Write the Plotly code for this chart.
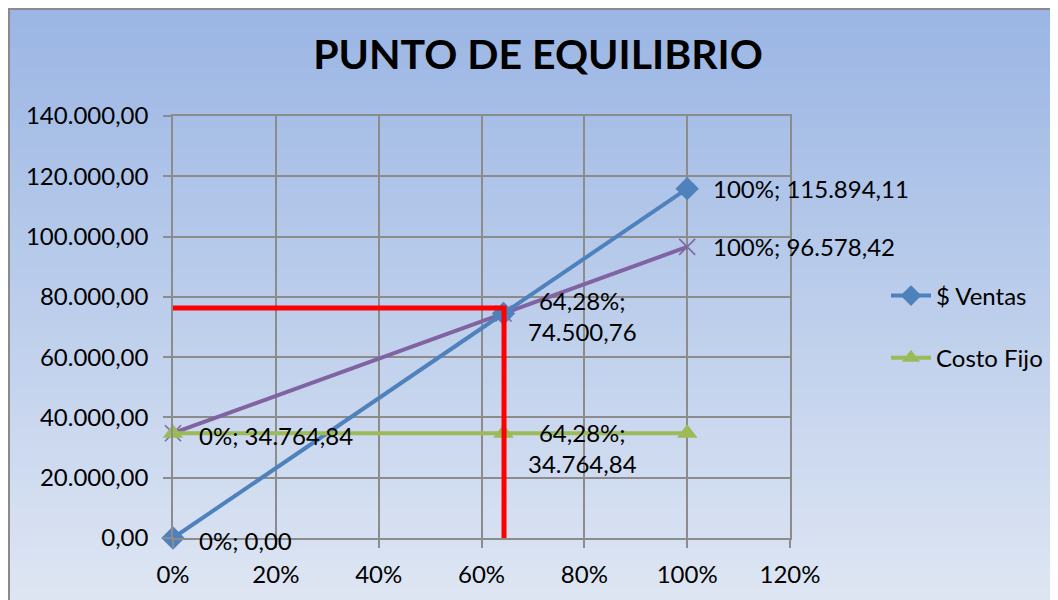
import plotly.graph_objects as go

# ---- data ----
x_pct = [0.0, 0.6428, 1.0]
ventas = [0.0, 74500.76, 115894.11]
costo_fijo = [34764.84, 34764.84, 34764.84]
costo_total = [34764.84, 74500.76, 96578.42]
red_x = [-0.01, 0.6438, 0.6438]
red_y = [76300, 76300, -2500]
x_ticks = [0, 0.2, 0.4, 0.6, 0.8, 1.0, 1.2]
y_ticks = [0, 20000, 40000, 60000, 80000, 100000, 120000, 140000]

W, H = 1058, 600
L, T = 165, 108
PW, PH = 617, 422
R, B = W - L - PW, H - T - PH

def px_x(px):
    return (px - L) / PW

def px_y(py):
    return (H - B - py) / PH

def fmt_num(v):
    s = f"{v:,.2f}"
    return s.replace(",", "X").replace(".", ",").replace("X", ".")

def fmt_pct(p):
    s = f"{p*100:.2f}".rstrip("0").rstrip(".")
    return s.replace(".", ",") + "%"

def lab(p, v, br=False):
    return fmt_pct(p) + (";<br>" if br else "; ") + fmt_num(v)

FONT = "Lato, Carlito, Calibri, sans-serif"

fig = go.Figure()

# gradient background bands
top = (155, 182, 228)
bot = (222, 230, 243)
n = 60
shapes = []
for i in range(n):
    t = i / (n - 1)
    c = tuple(round(top[k] + (bot[k] - top[k]) * t) for k in range(3))
    y0 = H * i / n
    y1 = H * (i + 1) / n + 1
    shapes.append(dict(type="rect", xref="paper", yref="paper", layer="below",
                       x0=px_x(0), x1=px_x(W), y0=px_y(y1), y1=px_y(y0),
                       fillcolor=f"rgb{c}", line=dict(width=0)))
# border lines top & left
shapes.append(dict(type="line", xref="paper", yref="paper", layer="above",
                   x0=px_x(0), x1=px_x(W), y0=px_y(1), y1=px_y(1),
                   line=dict(color="#8a8a8a", width=2)))
shapes.append(dict(type="line", xref="paper", yref="paper", layer="above",
                   x0=px_x(1), x1=px_x(1), y0=px_y(0), y1=px_y(H),
                   line=dict(color="#8a8a8a", width=2)))

fig.add_trace(go.Scatter(x=x_pct, y=costo_total, mode="lines+markers",
                         line=dict(color="#8064A2", width=4),
                         marker=dict(symbol="x-thin-open", size=16,
                                     line=dict(color="#8064A2", width=1.5)),
                         showlegend=False, cliponaxis=False))
fig.add_trace(go.Scatter(x=x_pct, y=ventas, mode="lines+markers", name="$ Ventas",
                         line=dict(color="#4F81BD", width=4),
                         marker=dict(symbol="diamond", size=18, color="#4F81BD"),
                         legendgroup="a", cliponaxis=False))
fig.add_trace(go.Scatter(x=x_pct, y=costo_fijo, mode="lines+markers", name="Costo Fijo",
                         line=dict(color="#9BBB59", width=4),
                         marker=dict(symbol="triangle-up", size=18, color="#9BBB59"),
                         legendgroup="b", cliponaxis=False))
fig.add_trace(go.Scatter(x=red_x, y=red_y, mode="lines",
                         line=dict(color="#FF0000", width=5),
                         showlegend=False, cliponaxis=False, hoverinfo="skip"))

ann_font = dict(family=FONT, size=24, color="black")
anns = [
    dict(x=x_pct[0], y=ventas[0], text=lab(x_pct[0], ventas[0]), xshift=24, yshift=-2),
    dict(x=x_pct[0], y=costo_fijo[0], text=lab(x_pct[0], costo_fijo[0]), xshift=24, yshift=-2),
    dict(x=x_pct[1], y=ventas[1], text=lab(x_pct[1], ventas[1], True), xshift=22, yshift=-3),
    dict(x=x_pct[1], y=costo_fijo[1], text=lab(x_pct[1], costo_fijo[1], True), xshift=22, yshift=-15),
    dict(x=x_pct[2], y=ventas[2], text=lab(x_pct[2], ventas[2]), xshift=24, yshift=0),
    dict(x=x_pct[2], y=costo_total[2], text=lab(x_pct[2], costo_total[2]), xshift=24, yshift=0),
]
annotations = []
for a in anns:
    a.update(xref="x", yref="y", xanchor="left", yanchor="middle", showarrow=False,
             font=ann_font, align="center")
    annotations.append(a)

tick_font = dict(family=FONT, size=24, color="black")
fig.update_layout(
    width=W, height=H,
    margin=dict(l=L, r=R, t=T, b=B),
    paper_bgcolor="#DCE6F2",
    plot_bgcolor="rgba(0,0,0,0)",
    separators=",.",
    title=dict(text="<b>PUNTO DE EQUILIBRIO</b>", x=px_x(530), xanchor="center",
               xref="paper", y=1 - 47 / H, yanchor="middle",
               font=dict(family=FONT, size=41, color="black")),
    shapes=shapes,
    annotations=annotations,
    showlegend=True,
    legend=dict(x=px_x(878), y=px_y(319), xanchor="left", yanchor="middle",
                font=dict(family=FONT, size=24, color="black"),
                bgcolor="rgba(0,0,0,0)", tracegroupgap=28, itemwidth=40),
    xaxis=dict(range=[0, 1.2], tickvals=x_ticks, tickformat=".0%",
               showgrid=True, gridcolor="#8c8c8c", gridwidth=1.5,
               zeroline=False, showline=True, linecolor="#8c8c8c", linewidth=1.5,
               mirror=True, ticks="outside", ticklen=8, tickcolor="#8c8c8c",
               tickwidth=1.5, tickfont=tick_font, ticklabelstandoff=6),
    yaxis=dict(range=[0, 140000], tickvals=y_ticks, tickformat=",.2f",
               showgrid=True, gridcolor="#8c8c8c", gridwidth=1.5,
               zeroline=False, showline=True, linecolor="#8c8c8c", linewidth=1.5,
               mirror=True, ticks="outside", ticklen=8, tickcolor="#8c8c8c",
               tickwidth=1.5, tickfont=tick_font, ticklabelstandoff=10),
)

fig.write_html("out.html")
